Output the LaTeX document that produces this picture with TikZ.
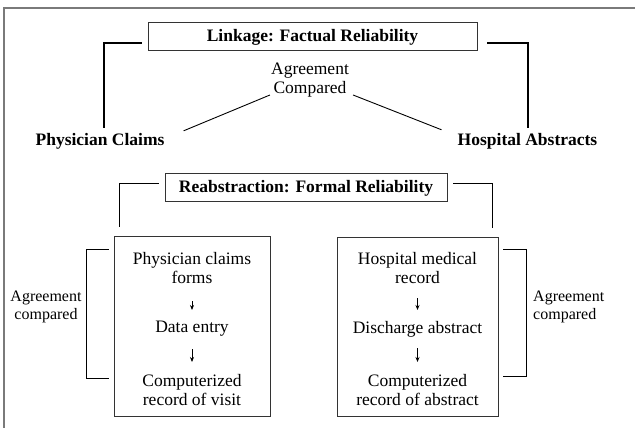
\documentclass[tikz,border=0pt]{standalone}
\usepackage{fontspec}
\setmainfont{Liberation Serif}
\usetikzlibrary{arrows.meta,calc}
\definecolor{boxgray}{HTML}{333333}
\definecolor{framegray}{HTML}{7A7A7A}
\begin{document}
\begin{tikzpicture}[x=1pt,y=-1pt,
  txt/.style={inner sep=0pt, align=center, font=\fontsize{17.5}{19}\selectfont},
  head/.style={inner sep=0pt, font=\fontsize{17.5}{19}\selectfont\bfseries},
  titlebox/.style={draw=boxgray, line width=0.9pt, inner sep=0pt, minimum height=28pt,
    font=\fontsize{17.5}{19}\selectfont\bfseries, text height=13.6pt, text depth=2pt},
  panel/.style={draw=boxgray, line width=0.9pt, inner sep=0pt},
  side/.style={inner sep=0pt, font=\fontsize{16}{18}\selectfont},
  heavy/.style={line width=2pt},
  light/.style={line width=0.9pt},
  flow/.style={line width=0.8pt, -{Stealth[length=5pt,width=4pt]}},
]
\useasboundingbox (0,0) rectangle (635,428);
\clip (0,0) rectangle (635,428);
\fill[white] (0,0) rectangle (635,428);
% outer frame (runs off the right and bottom edges)
\draw[framegray, line width=1.5pt] (4,8) rectangle (650,445);

% upper part: linkage
\node[titlebox, minimum width=329pt] (link) at (312.5,36) {Linkage: Factual Reliability};
\node[head, anchor=base] (pc) at (100,145) {Physician Claims};
\node[head, anchor=base] (ha) at (527.5,145) {Hospital Abstracts};
\node[txt] (agr) at (310,80.4) {Agreement\\Compared};

\draw[heavy] ($(link.west)+(-6,7)$) -| ($(pc.north)+(4,-5)$);
\draw[heavy] ($(link.east)+(10,7)$) -| ($(ha.north)+(0,-5)$);
\draw[light] ($(pc.east)+(19,-10)$) -- ($(agr.west)+(-1,14.6)$);
\draw[light] ($(agr.east)+(4,14.6)$) -- ($(ha.west)+(-16,-11)$);

% lower part: reabstraction
\node[titlebox, minimum width=282pt] (reab) at (306,187) {Reabstraction: Formal Reliability};
\node[panel, minimum width=156pt, minimum height=180pt] (lb) at (192,326) {};
\node[panel, minimum width=161pt, minimum height=179pt] (rb) at (417.5,326.5) {};

\draw[light] ($(reab.west)+(-6,-4)$) -| ($(lb.north west)+(6,-9)$);
\draw[light] ($(reab.east)+(6,-4)$) -| ($(rb.north east)+(-6,-9)$);

% left panel contents
\node[txt] (l1) at (192,268) {Physician claims\\forms};
\node[txt] (l2) at (192,329) {Data entry};
\node[txt] (l3) at (192,390) {Computerized\\record of visit};
\draw[flow] ($(l1.center)+(0,33)$) -- ($(l2.center)+(0,-19)$);
\draw[flow] ($(l2.center)+(0,20)$) -- ($(l3.center)+(0,-28)$);

% right panel contents
\node[txt] (r1) at (417.5,268) {Hospital medical\\record};
\node[txt] (r2) at (417.5,329) {Discharge abstract};
\node[txt] (r3) at (417.5,390) {Computerized\\record of abstract};
\draw[flow] ($(r1.center)+(0,30)$) -- ($(r2.center)+(0,-19)$);
\draw[flow] ($(r2.center)+(0,19)$) -- ($(r3.center)+(0,-28)$);

% side brackets
\draw[light] ($(lb.north west)+(-5,14)$) -| ($(lb.south west)+(-27,-38)$) -- ($(lb.south west)+(-5,-38)$);
\draw[light] ($(rb.north east)+(5,13)$) -| ($(rb.south east)+(28,-40)$) -- ($(rb.south east)+(5,-40)$);
\node[side, align=center] (la) at (46,307) {Agreement\\compared};
\node[side, align=left, anchor=west] (ra) at (533,307) {Agreement\\compared};
\end{tikzpicture}
\end{document}
